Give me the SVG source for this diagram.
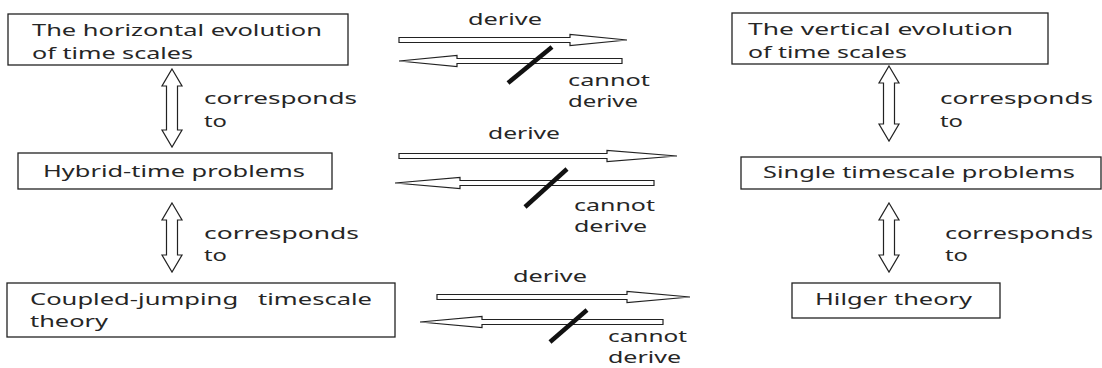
<svg xmlns="http://www.w3.org/2000/svg" width="1102" height="368" viewBox="0 0 1102 368">
<style>
.box{fill:#fff;stroke:#222;stroke-width:1.3}
.t{font-family:"Noto Sans","Open Sans",sans-serif;font-size:17px;fill:#262626}
.arr{fill:#fff;stroke:#222;stroke-width:1.2;stroke-linejoin:miter}
.slash{stroke:#111;stroke-width:4.5;stroke-linecap:butt}
</style>
<rect width="1102" height="368" fill="#fff"/>
<g id="horizontal">
<rect class="box" x="8" y="14" width="340" height="51"/>
<text class="t" x="32" y="36" textLength="290" lengthAdjust="spacingAndGlyphs">The horizontal evolution</text>
<text class="t" x="32" y="59" textLength="161" lengthAdjust="spacingAndGlyphs">of time scales</text>
</g>
<g id="vertical">
<rect class="box" x="732" y="13" width="316" height="51"/>
<text class="t" x="748" y="35" textLength="265" lengthAdjust="spacingAndGlyphs">The vertical evolution</text>
<text class="t" x="748" y="58" textLength="159" lengthAdjust="spacingAndGlyphs">of time scales</text>
</g>
<g id="hybrid">
<rect class="box" x="18" y="153" width="314" height="36"/>
<text class="t" x="43" y="177" textLength="262" lengthAdjust="spacingAndGlyphs">Hybrid-time problems</text>
</g>
<g id="single">
<rect class="box" x="741" y="157" width="360" height="32"/>
<text class="t" x="763" y="178" textLength="312" lengthAdjust="spacingAndGlyphs">Single timescale problems</text>
</g>
<g id="coupled">
<rect class="box" x="7" y="283" width="388" height="54"/>
<text class="t" x="30" y="305" textLength="342" lengthAdjust="spacingAndGlyphs" xml:space="preserve">Coupled-jumping   timescale</text>
<text class="t" x="30" y="327" textLength="78" lengthAdjust="spacingAndGlyphs">theory</text>
</g>
<g id="hilger">
<rect class="box" x="792" y="283" width="208" height="35"/>
<text class="t" x="815" y="305" textLength="157" lengthAdjust="spacingAndGlyphs">Hilger theory</text>
</g>
<g id="connectors">
<path class="arr" d="M172,69 L182,86 L177.5,86 L177.5,130 L182,130 L172,147 L162,130 L166.5,130 L166.5,86 L162,86 Z"/>
<path class="arr" d="M172,203 L182,220 L177.5,220 L177.5,255 L182,255 L172,272 L162,255 L166.5,255 L166.5,220 L162,220 Z"/>
<path class="arr" d="M889,66 L899,83 L894.5,83 L894.5,124 L899,124 L889,141 L879,124 L883.5,124 L883.5,83 L879,83 Z"/>
<path class="arr" d="M889,203 L899,220 L894.5,220 L894.5,255 L899,255 L889,272 L879,255 L883.5,255 L883.5,220 L879,220 Z"/>
<path class="arr" d="M399,37.5 L570,37.5 L570,34.5 L627,40 L570,45.5 L570,42.5 L399,42.5 Z"/>
<path class="arr" d="M622,58.5 L457,58.5 L457,55.5 L399,61 L457,66.5 L457,63.5 L622,63.5 Z"/>
<line class="slash" x1="508" y1="83" x2="552" y2="47"/>
<path class="arr" d="M399,153.5 L607,153.5 L607,150.5 L677,156 L607,161.5 L607,158.5 L399,158.5 Z"/>
<path class="arr" d="M654,180.5 L460,180.5 L460,177.5 L395,183 L460,188.5 L460,185.5 L654,185.5 Z"/>
<line class="slash" x1="525" y1="207" x2="567" y2="169"/>
<path class="arr" d="M437,294.5 L627,294.5 L627,291.5 L690,297 L627,302.5 L627,299.5 L437,299.5 Z"/>
<path class="arr" d="M663,319.5 L482,319.5 L482,316.5 L420,322 L482,327.5 L482,324.5 L663,324.5 Z"/>
<line class="slash" x1="550" y1="342" x2="587" y2="310"/>
<text class="t" x="204" y="104" textLength="153" lengthAdjust="spacingAndGlyphs">corresponds</text>
<text class="t" x="204" y="127" textLength="23" lengthAdjust="spacingAndGlyphs">to</text>
<text class="t" x="204" y="239" textLength="155" lengthAdjust="spacingAndGlyphs">corresponds</text>
<text class="t" x="204" y="261" textLength="23" lengthAdjust="spacingAndGlyphs">to</text>
<text class="t" x="940" y="104" textLength="153" lengthAdjust="spacingAndGlyphs">corresponds</text>
<text class="t" x="940" y="127" textLength="23" lengthAdjust="spacingAndGlyphs">to</text>
<text class="t" x="945" y="239" textLength="148" lengthAdjust="spacingAndGlyphs">corresponds</text>
<text class="t" x="945" y="261" textLength="23" lengthAdjust="spacingAndGlyphs">to</text>
<text class="t" x="468" y="25" textLength="74" lengthAdjust="spacingAndGlyphs">derive</text>
<text class="t" x="568" y="86" textLength="82" lengthAdjust="spacingAndGlyphs">cannot</text>
<text class="t" x="568" y="107" textLength="70" lengthAdjust="spacingAndGlyphs">derive</text>
<text class="t" x="488" y="139" textLength="72" lengthAdjust="spacingAndGlyphs">derive</text>
<text class="t" x="574" y="211" textLength="81" lengthAdjust="spacingAndGlyphs">cannot</text>
<text class="t" x="574" y="232" textLength="73" lengthAdjust="spacingAndGlyphs">derive</text>
<text class="t" x="513" y="282" textLength="74" lengthAdjust="spacingAndGlyphs">derive</text>
<text class="t" x="608" y="342" textLength="79" lengthAdjust="spacingAndGlyphs">cannot</text>
<text class="t" x="608" y="363" font-size="16" textLength="73" lengthAdjust="spacingAndGlyphs">derive</text>
</g>
</svg>
